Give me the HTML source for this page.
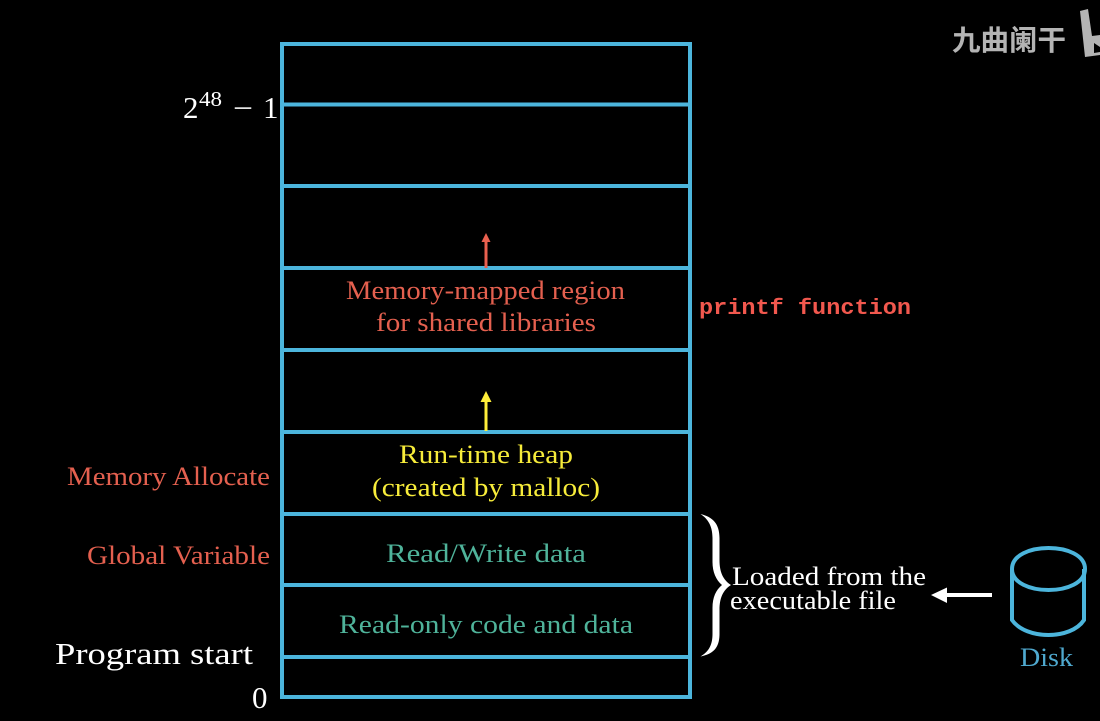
<!DOCTYPE html>
<html><head><meta charset="utf-8"><style>
html,body{margin:0;padding:0;background:#000;width:1100px;height:721px;overflow:hidden}
svg{display:block}
text{font-family:"Liberation Serif",serif;font-size:26px}
.m{font-family:"Liberation Mono",monospace;font-weight:bold;font-size:22px}
</style></head><body>
<svg width="1100" height="721" viewBox="0 0 1100 721" xmlns="http://www.w3.org/2000/svg">
<rect width="1100" height="721" fill="#000"/>
<g stroke="#4cb5dc" stroke-width="4" fill="none">
<rect x="282" y="44" width="408" height="653"/>
<path d="M282 104.500H690M282 186H690M282 268H690M282 350H690M282 432H690M282 514H690M282 585H690M282 657H690"/>
<path d="M1012 569C1012 541 1085 541 1085 569C1085 597 1012 597 1012 569M1012 569V620C1026 640 1071 640 1084 620V569"/>
</g>
<!-- arrows -->
<path d="M486 268V240" stroke="#e9604f" stroke-width="3"/>
<path d="M486 233L490.500 242H481.500Z" fill="#e9604f"/>
<path d="M486 431V400" stroke="#ffee3a" stroke-width="3"/>
<path d="M486 391L491.500 402H480.500Z" fill="#ffee3a"/>
<path d="M992 595H944" stroke="#fff" stroke-width="4"/>
<path d="M931 595L947 587.500V603Z" fill="#fff"/>
<!-- brace -->
<path d="M700.500 514C713 517 719.500 524 719.500 538V560C719.500 572 723 580 731 585C723 590 719.500 598 719.500 610V634C719.500 648 713 654 700.500 656.500C708 652 712.500 646 712.500 634V608C712.500 597 716 590 722 585C716 580 712.500 572 712.500 562V538C712.500 526 708 519 700.500 514Z" fill="#fff"/>
<!-- labels -->
<g fill="#e4604f">
<text x="346" y="299" textLength="279" lengthAdjust="spacingAndGlyphs">Memory-mapped region</text>
<text x="376" y="331" textLength="220" lengthAdjust="spacingAndGlyphs">for shared libraries</text>
<text x="67" y="485" textLength="203" lengthAdjust="spacingAndGlyphs">Memory Allocate</text>
<text x="87" y="564" textLength="183" lengthAdjust="spacingAndGlyphs">Global Variable</text>
</g>
<text class="m" x="699" y="314" fill="#f2584e" textLength="212" lengthAdjust="spacingAndGlyphs">printf function</text>
<g fill="#f7ec3a">
<text x="399" y="463" textLength="174" lengthAdjust="spacingAndGlyphs">Run-time heap</text>
<text x="372" y="496" textLength="228" lengthAdjust="spacingAndGlyphs">(created by malloc)</text>
</g>
<g fill="#4fb39a">
<text x="386" y="562" textLength="200" lengthAdjust="spacingAndGlyphs">Read/Write data</text>
<text x="339" y="633" textLength="294" lengthAdjust="spacingAndGlyphs">Read-only code and data</text>
</g>
<g fill="#fff">
<text x="732" y="585" textLength="194" lengthAdjust="spacingAndGlyphs">Loaded from the</text>
<text x="730" y="609" textLength="166" lengthAdjust="spacingAndGlyphs">executable file</text>
<text x="55" y="664" style="font-size:31px" textLength="198" lengthAdjust="spacingAndGlyphs">Program start</text>
<text x="252" y="708" style="font-size:31px">0</text>
<text x="183" y="118" style="font-size:31px">2</text>
<text x="199" y="106" style="font-size:21px" textLength="23" lengthAdjust="spacingAndGlyphs">48</text>
<text x="233" y="118" style="font-size:30px" textLength="20" lengthAdjust="spacingAndGlyphs">−</text>
<text x="263" y="118" style="font-size:31px">1</text>
</g>
<text x="1020" y="666" fill="#4fa9cf" textLength="53" lengthAdjust="spacingAndGlyphs">Disk</text>
<!-- watermark -->
<text x="952" y="50" fill="#b4b4b4" style='font-family:"Noto Sans CJK SC","WenQuanYi Zen Hei",sans-serif;font-size:28px;font-weight:700' textLength="114" lengthAdjust="spacingAndGlyphs">九曲阑干</text>
<path d="M1080 11L1088 9L1092 36L1100 35V55L1085 57Z" fill="#b4b4b4"/>
<path d="M1094 43L1100 47V52L1094 53Z" fill="#000"/>
</svg>
</body></html>
